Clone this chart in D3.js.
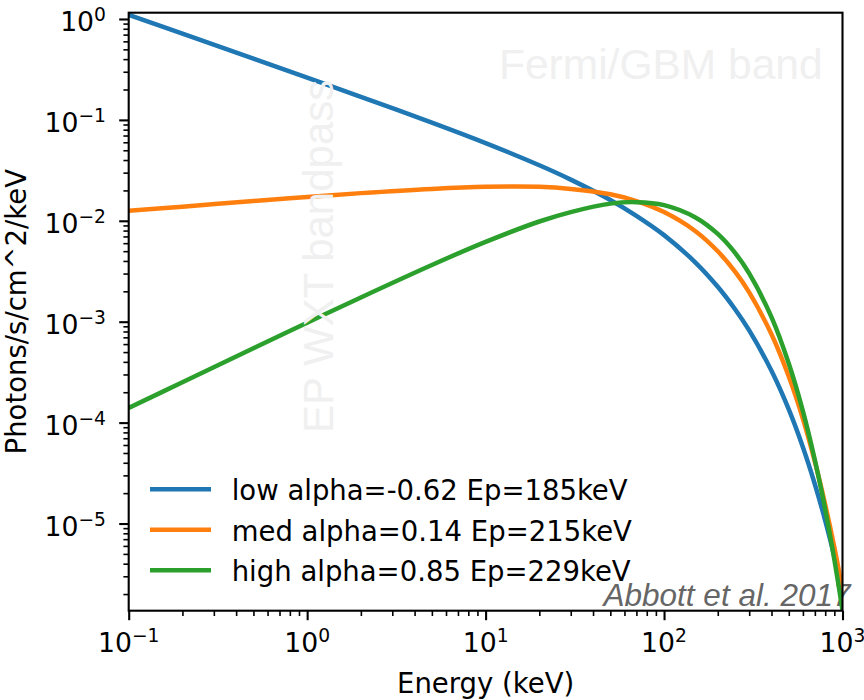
<!DOCTYPE html>
<html>
<head>
<meta charset="utf-8">
<script src="https://cdn.jsdelivr.net/npm/d3@7"></script>
<style>
  body { margin: 0; background: #fff; }
  text { font-family: "DejaVu Sans", sans-serif; }
</style>
</head>
<body>
<div id="chart"></div>
<script>
// energy grid (keV) and photon flux (photons/s/cm^2/keV)
const energies = [0.1, 0.2, 0.5, 1, 2, 5, 10, 20, 30, 50, 70, 100, 150, 200, 250, 300, 400, 500, 600, 700, 800, 900, 1000];
const lowAlpha = [1.10, 0.714, 0.405, 0.262, 0.169, 0.0940, 0.0589, 0.0355, 0.0256, 0.0161, 0.0112, 7.21e-3, 3.86e-3, 2.22e-3, 1.33e-3, 8.20e-4, 3.26e-4, 1.35e-4, 5.70e-5, 2.45e-5, 1.07e-5, 4.72e-6, 2.10e-6];
const medAlpha = [0.0126, 0.0138, 0.0157, 0.0172, 0.0188, 0.0207, 0.0217, 0.0217, 0.0207, 0.0183, 0.0157, 0.0122, 7.89e-3, 4.99e-3, 3.13e-3, 1.95e-3, 7.50e-4, 2.86e-4, 1.09e-4, 4.10e-5, 1.54e-5, 5.81e-6, 2.18e-6];
const highAlpha = [1.40e-4, 2.51e-4, 5.45e-4, 9.77e-4, 1.74e-3, 3.65e-3, 6.18e-3, 9.84e-3, 0.0122, 0.0148, 0.0153, 0.0143, 0.0108, 7.41e-3, 4.81e-3, 3.01e-3, 1.11e-3, 3.85e-4, 1.30e-4, 4.26e-5, 1.38e-5, 4.38e-6, 1.38e-6];

const seriesNames = ['low alpha=-0.62 Ep=185keV', 'med alpha=0.14 Ep=215keV', 'high alpha=0.85 Ep=229keV'];
const seriesColors = ['#1f77b4', '#ff7f0e', '#2ca02c'];

const xTickExps = [-1, 0, 1, 2, 3];
const yTickExps = [0, -1, -2, -3, -4, -5];

const width = 864, height = 700;
const margin = { top: 12.7, right: 21.5, bottom: 89.3, left: 128.7 };
const fs = 26.7;   // tick labels
const fsText = 27.5; // axis labels, legend

const svg = d3.select('#chart').append('svg')
  .attr('width', width)
  .attr('height', height);

const x = d3.scaleLog()
  .domain([0.1, 1000])
  .range([margin.left, width - margin.right]);

const y = d3.scaleLog()
  .domain([1.368e-6, 1.154])
  .range([height - margin.bottom, margin.top]);

svg.append('defs').append('clipPath').attr('id', 'clip')
  .append('rect')
  .attr('x', margin.left).attr('y', margin.top)
  .attr('width', x.range()[1] - x.range()[0])
  .attr('height', y.range()[0] - y.range()[1]);

// credit text, under the curves
svg.append('text')
  .attr('x', 850.5).attr('y', 605.5)
  .attr('text-anchor', 'end')
  .style('font-family', '"Liberation Sans", Arial, sans-serif')
  .style('font-style', 'italic')
  .style('font-size', '31.5px')
  .attr('fill', '#666')
  .text('Abbott et al. 2017');

const series = [lowAlpha, medAlpha, highAlpha];
const line = d3.line()
  .x((d, i) => x(energies[i]))
  .y(d => y(d))
  .curve(d3.curveCatmullRom.alpha(0.5));

svg.append('g')
  .attr('clip-path', 'url(#clip)')
  .selectAll('path')
  .data(series)
  .enter()
  .append('path')
  .attr('d', line)
  .attr('fill', 'none')
  .attr('stroke', (d, i) => seriesColors[i])
  .attr('stroke-width', 4.5);

// faint band labels drawn over the curves
svg.append('text')
  .attr('x', 499).attr('y', 79)
  .style('font-family', '"Liberation Sans", Arial, sans-serif')
  .style('font-size', '42.5px')
  .attr('fill', '#f0f0f0')
  .text('Fermi/GBM band');

svg.append('text')
  .attr('transform', 'translate(333,433) rotate(-90)')
  .style('font-family', '"Liberation Sans", Arial, sans-serif')
  .style('font-size', '42px')
  .attr('fill', '#f0f0f0')
  .text('EP WXT bandpass');

// ticks
const xMinor = [], yMinor = [];
for (let e = -1; e < 3; e++) for (let m = 2; m < 10; m++) xMinor.push(m * Math.pow(10, e));
for (let e = -6; e < 0; e++) for (let m = 2; m < 10; m++) {
  const v = m * Math.pow(10, e);
  if (v > y.domain()[0] && v < y.domain()[1]) yMinor.push(v);
}

const bottom = height - margin.bottom;

function styleAxis(g, w) {
  g.select('.domain').remove();
  g.selectAll('.tick line').attr('stroke', '#000').attr('stroke-width', w);
  g.selectAll('.tick text').remove();
}

svg.append('g')
  .attr('transform', `translate(0,${bottom})`)
  .call(d3.axisBottom(x).tickValues(xMinor).tickSize(5.3).tickFormat(''))
  .call(g => styleAxis(g, 1.6));
svg.append('g')
  .attr('transform', `translate(0,${bottom})`)
  .call(d3.axisBottom(x).tickValues(xTickExps.map(e => Math.pow(10, e))).tickSize(9.5).tickFormat(''))
  .call(g => styleAxis(g, 2.1));
svg.append('g')
  .attr('transform', `translate(${margin.left},0)`)
  .call(d3.axisLeft(y).tickValues(yMinor).tickSize(5.3).tickFormat(''))
  .call(g => styleAxis(g, 1.6));
svg.append('g')
  .attr('transform', `translate(${margin.left},0)`)
  .call(d3.axisLeft(y).tickValues(yTickExps.map(e => Math.pow(10, e))).tickSize(9.5).tickFormat(''))
  .call(g => styleAxis(g, 2.1));

function powLabel(sel, e) {
  sel.append('tspan').text('10');
  sel.append('tspan')
    .attr('dy', -9.5)
    .style('font-size', (fs * 0.7) + 'px')
    .text(e < 0 ? '\u2212' + (-e) : String(e));
}

svg.append('g').selectAll('text')
  .data(xTickExps)
  .enter()
  .append('text')
  .attr('x', d => x(Math.pow(10, d)))
  .attr('y', bottom + 41)
  .attr('text-anchor', 'middle')
  .style('font-size', fs + 'px')
  .each(function (d) { powLabel(d3.select(this), d); });

svg.append('g').selectAll('text')
  .data(yTickExps)
  .enter()
  .append('text')
  .attr('x', 106)
  .attr('y', d => y(Math.pow(10, d)) + 12)
  .attr('text-anchor', 'end')
  .style('font-size', fs + 'px')
  .each(function (d) { powLabel(d3.select(this), d); });

// frame
svg.append('rect')
  .attr('x', margin.left).attr('y', margin.top)
  .attr('width', x.range()[1] - x.range()[0])
  .attr('height', y.range()[0] - y.range()[1])
  .attr('fill', 'none')
  .attr('stroke', '#000')
  .attr('stroke-width', 2.1);

// axis labels
svg.append('text')
  .attr('x', (x.range()[0] + x.range()[1]) / 2)
  .attr('y', 693)
  .attr('text-anchor', 'middle')
  .style('font-size', fsText + 'px')
  .text('Energy (keV)');

svg.append('text')
  .attr('transform', `translate(26,${(y.range()[0] + y.range()[1]) / 2}) rotate(-90)`)
  .attr('text-anchor', 'middle')
  .style('font-size', fsText + 'px')
  .text('Photons/s/cm^2/keV');

// legend
const legend = svg.append('g')
  .selectAll('g')
  .data(seriesNames)
  .enter()
  .append('g')
  .attr('transform', (d, i) => `translate(150,${489.3 + i * 40.5})`);

legend.append('line')
  .attr('x1', 0).attr('x2', 61)
  .attr('stroke', (d, i) => seriesColors[i])
  .attr('stroke-width', 4.5);

legend.append('text')
  .attr('x', 81.7)
  .attr('y', 10.7)
  .style('font-size', fsText + 'px')
  .text(d => d);
</script>
</body>
</html>
